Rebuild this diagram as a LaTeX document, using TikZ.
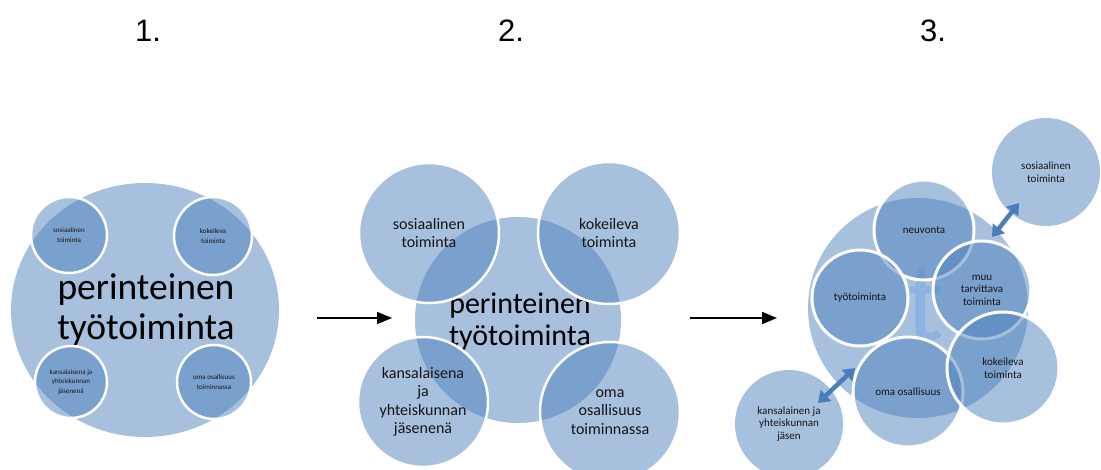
\documentclass[tikz,border=0pt]{standalone}
\usepackage{fontspec}
\setmainfont{Carlito}
\newfontfamily\numfont{Liberation Sans}
\usetikzlibrary{arrows.meta,shapes.geometric}
\definecolor{acc}{HTML}{4F81BD}
\definecolor{arr}{HTML}{4A7EBB}
\definecolor{tcol}{HTML}{8DB3E2}
\definecolor{txt}{HTML}{151515}
\begin{document}
\begin{tikzpicture}[x=1pt,y=-1pt,
  bub/.style={circle, inner sep=0pt, fill=acc, fill opacity=0.5, text opacity=1,
              draw=white, line width=2.5pt, align=center, text=txt},
  bigc/.style={circle, inner sep=0pt, fill=acc, fill opacity=0.5, draw=none},
  numlbl/.style={font=\numfont\fontsize{31}{31}\selectfont, text=black},
  flow/.style={line width=1.8pt, -{Triangle[length=15pt,width=12pt]}},
  link/.style={arr, line width=4.5pt, {Triangle[length=11pt,width=15pt]}-{Triangle[length=11pt,width=15pt]}},
  fa/.style={font=\fontsize{7}{9.5}\selectfont},
  fb/.style={font=\fontsize{16}{18.5}\selectfont},
  fc/.style={font=\fontsize{11}{12.5}\selectfont},
  bigtxt/.style={align=center, text=black, inner sep=0pt}
]
\path[use as bounding box] (0,0) rectangle (1101,470);

% panel numbers
\node[numlbl] (n1) at (148,31) {1.};
\node[numlbl] (n2) at (511,31) {2.};
\node[numlbl] (n3) at (933,31) {3.};

% ---------- panel 1
\node[ellipse, inner sep=0pt, fill=acc, fill opacity=0.5, minimum width=268pt, minimum height=254pt] (p1big) at (145,310) {};
\node[bub, minimum size=76pt, fa] (p1sos) at (69,235) {sosiaalinen\\toiminta};
\node[bub, minimum size=78pt, fa] (p1kok) at (213,236) {kokeileva\\toiminta};
\node[bub, minimum size=72pt, fa] (p1kan) at (71,382) {kansalaisena ja\\yhteiskunnan\\jäsenenä};
\node[bub, minimum size=74pt, fa] (p1oma) at (214,382) {oma osallisuus\\toiminnassa};
\node[bigtxt, font=\fontsize{37.5}{40}\selectfont] (p1txt) at (146,310) {perinteinen\\työtoiminta};

% arrow 1 -> 2
\coordinate (a1s) at (317,318);
\coordinate (a1e) at (392,318);
\draw[flow] (a1s) -- (a1e);

% ---------- panel 2
\node[bigc, minimum size=206pt] (p2c) at (518,320) {};
\node[bigtxt, font=\fontsize{30}{32}\selectfont] (p2txt) at (520,322) {perinteinen\\työtoiminta};
\node[bub, minimum size=140pt, fb] (p2sos) at (429,233) {sosiaalinen\\toiminta};
\node[bub, minimum size=142pt, fb] (p2kok) at (609,233) {kokeileva\\toiminta};
\node[bub, minimum size=130pt, fb] (p2kan) at (423,402) {kansalaisena\\ja\\yhteiskunnan\\jäsenenä};
\node[bub, minimum size=140pt, fb] (p2oma) at (610,412) {oma\\osallisuus\\toiminnassa};

% arrow 2 -> 3
\coordinate (a2s) at (690,318);
\coordinate (a2e) at (777,318);
\draw[flow] (a2s) -- (a2e);

% ---------- panel 3
\node[bigc, minimum size=220pt] (p3big) at (918,308) {};
\node[text=tcol, font=\fontsize{115}{115}\selectfont, inner sep=0pt] (p3t) at (925,305) {t};
\node[bub, line width=3pt, minimum size=100pt, fc] (p3neu) at (924,230) {neuvonta};
\node[bub, line width=3pt, minimum size=98pt, fc] (p3muu) at (982,290) {muu\\tarvittava\\toiminta};
\node[bub, line width=3pt, minimum size=96pt, fc] (p3tyo) at (860,298) {työtoiminta};
\node[bub, line width=3pt, minimum size=110pt, fc] (p3oma) at (908,392) {oma osallisuus};
\node[bub, line width=3pt, minimum size=112pt, fc] (p3kok) at (1003,368) {kokeileva\\toiminta};
\node[bub, draw=none, minimum size=108pt, fc] (p3sos) at (1046,172) {sosiaalinen\\toiminta};
\node[bub, draw=none, minimum size=108pt, fc] (p3kan) at (789,424) {kansalainen ja\\yhteiskunnan\\jäsen};

\coordinate (l1a) at (992,237);
\coordinate (l1b) at (1019,203);
\draw[link] (l1a) -- (l1b);
\coordinate (l2a) at (818,403);
\coordinate (l2b) at (855,368);
\draw[link] (l2a) -- (l2b);
\end{tikzpicture}
\end{document}
